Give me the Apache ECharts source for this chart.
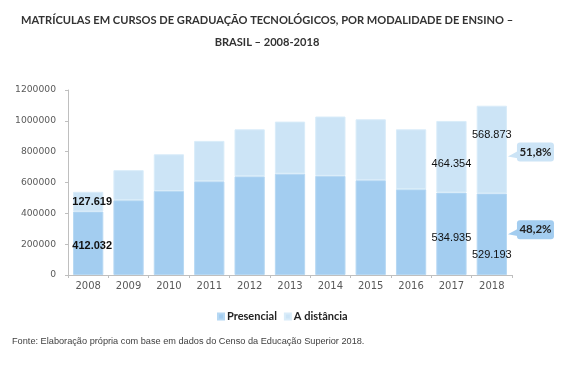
<!DOCTYPE html>
<html>
<head>
<meta charset="utf-8">
<script src="https://cdn.jsdelivr.net/npm/echarts@6/dist/echarts.min.js"></script>
<style>
html,body{margin:0;padding:0;background:#fff;}
#c{width:566px;height:367px;}
</style>
</head>
<body>
<div id="c"></div>
<script>
const anos = ['2008','2009','2010','2011','2012','2013','2014','2015','2016','2017','2018'];
const presencial = [412032, 485000, 545000, 608000, 640000, 657000, 643000, 615000, 556000, 534935, 529193];
const distancia = [127619, 195000, 238000, 262000, 305000, 338000, 385000, 395000, 389000, 464354, 568873];
const anosRotulados = ['2008', '2017', '2018'];
const titulo = 'MATRÍCULAS EM CURSOS DE GRADUAÇÃO TECNOLÓGICOS, POR MODALIDADE DE ENSINO –\nBRASIL – 2008-2018';
const fonte = 'Fonte: Elaboração própria com base em dados do Censo da Educação Superior 2018.';
const nomesSeries = ['Presencial', 'A distância'];

const corPres = '#a3cdf0';
const corDist = '#cce4f6';

function fmt(n){ return String(n).replace(/\B(?=(\d{3})+(?!\d))/g, '.'); }

// label style tweaks per labelled year (presencial, distancia)
const ajustes = {
  '2008': {p:[4,3], d:[4,0], w:'bold'},
  '2017': {p:[0,4], d:[0,7], w:'normal'},
  '2018': {p:[0,21], d:[0,-15], w:'normal'}
};

function buildData(vals, key){
  return vals.map((v,i)=>{
    const a = anos[i];
    if (anosRotulados.indexOf(a) < 0) return v;
    const aj = ajustes[a];
    return {value: v, label: {show: true, position: 'inside', offset: aj[key], fontWeight: aj.w,
      formatter: fmt(v)}};
  });
}

const labelBase = {show:false, fontFamily:'Liberation Sans', fontSize:11, color:'#111'};

const chart = echarts.init(document.getElementById('c'), null, {renderer:'canvas'});
chart.setOption({
  animation:false,
  backgroundColor:'#fff',
  title:[{
    text: titulo, left: 262, top: 5, textAlign:'center',
    textStyle:{fontFamily:'Lato', fontWeight:'bold', fontSize:11.1, color:'#333', lineHeight:21.6}
  },{
    text: fonte, left: 7, top: 332,
    textStyle:{fontFamily:'Liberation Sans', fontWeight:'normal', fontSize:9.2, color:'#404040'}
  }],
  legend:{
    data: nomesSeries, left: 212, top: 306, itemWidth:6, itemHeight:6, itemGap:7,
    icon:'rect',
    textStyle:{fontFamily:'Lato', fontWeight:'bold', fontSize:11, color:'#222', padding:[0,0,0,-2]}
  },
  grid:{left:68, right:54, top:90, bottom:92},
  xAxis:{
    type:'category', data: anos,
    axisLine:{lineStyle:{color:'#bfbfbf'}},
    axisTick:{show:true, length:3, lineStyle:{color:'#bfbfbf'}},
    axisLabel:{fontFamily:'DejaVu Sans', fontSize:10, color:'#595959', margin:6}
  },
  yAxis:{
    type:'value', min:0, max:1200000, interval:200000,
    axisLine:{show:true, lineStyle:{color:'#bfbfbf'}},
    axisTick:{show:true, length:3, lineStyle:{color:'#bfbfbf'}},
    splitLine:{show:false},
    axisLabel:{fontFamily:'DejaVu Sans', fontSize:9.2, color:'#595959', margin:12,
      formatter: v => String(v)}
  },
  series:[{
    name: nomesSeries[0], type:'bar', stack:'t', barWidth:'75%',
    itemStyle:{color:corPres, borderColor:'#b6d8f3', borderWidth:1},
    label: labelBase,
    data: buildData(presencial,'p')
  },{
    name: nomesSeries[1], type:'bar', stack:'t', barWidth:'75%',
    itemStyle:{color:corDist, borderColor:'#d9ecf9', borderWidth:1},
    label: labelBase,
    data: buildData(distancia,'d')
  }]
});

// callouts with shares of the last year
const last = anos.length - 1;
const tot = presencial[last] + distancia[last];
const shareP = (presencial[last]/tot*100).toFixed(1).replace('.', ',') + '%';
const shareD = (distancia[last]/tot*100).toFixed(1).replace('.', ',') + '%';
const p0 = chart.convertToPixel({xAxisIndex:0, yAxisIndex:0}, [last-1, 0]);
const p1 = chart.convertToPixel({xAxisIndex:0, yAxisIndex:0}, [last, 0]);
const catW = p1[0] - p0[0];
const barRight = p1[0] + catW*0.75/2;
const yPresMid = (chart.convertToPixel({yAxisIndex:0}, 0) + chart.convertToPixel({yAxisIndex:0}, presencial[last]))/2;
const yDistMid = (chart.convertToPixel({yAxisIndex:0}, presencial[last]) + chart.convertToPixel({yAxisIndex:0}, tot))/2;

function callout(tipY, boxTop, txt, fill){
  const tipX = barRight + 1;
  const bx = tipX + 9, bw = 37, bh = 19;
  return {type:'group', children:[
    {type:'polygon', shape:{points:[[bx+2, tipY-6],[tipX, tipY],[bx+2, tipY+2]]}, style:{fill:fill}},
    {type:'rect', shape:{x:bx, y:boxTop, width:bw, height:bh, r:3}, style:{fill:fill}},
    {type:'text', x: bx + bw/2, y: boxTop + bh/2, style:{text:txt, fill:'#222', font:'bold 11.5px Lato', align:'center', verticalAlign:'middle'}}
  ]};
}
chart.setOption({graphic:[
  callout(yDistMid + 7, yDistMid - 7, shareD, corDist),
  callout(yPresMid, yPresMid - 14, shareP, corPres)
]});
</script>
</body>
</html>
